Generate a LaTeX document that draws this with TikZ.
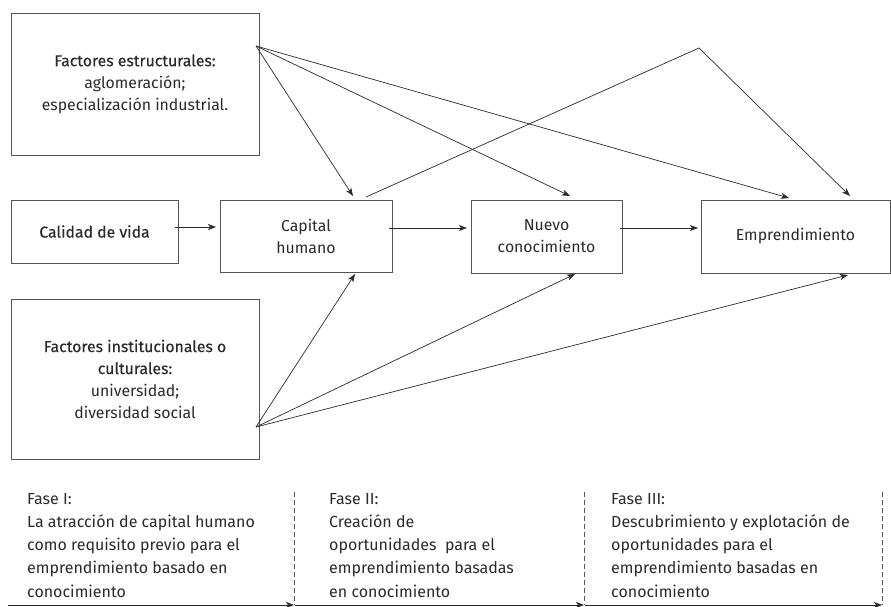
\documentclass[tikz,border=0pt]{standalone}
\usepackage{fontspec}
\setmainfont{Fira Sans}
\newfontfamily\medfont[FakeBold=0.3]{Fira Sans}
\usetikzlibrary{arrows.meta}
\definecolor{ink}{HTML}{2A2A2A}
\definecolor{frame}{HTML}{555555}
\tikzset{
  box/.style={draw=frame, line width=0.9pt, align=center, text=ink,
    font=\fontsize{15.8}{22}\selectfont, inner sep=0pt},
  link/.style={draw=ink, line width=0.7pt, -{Stealth[length=8pt,width=6pt,inset=2pt]}},
  phase/.style={draw=frame, line width=0.7pt, dash pattern=on 5pt off 3pt},
  phasetext/.style={anchor=north west, align=left, text=ink, inner sep=0pt,
    font=\fontsize{16}{23.2}\selectfont},
}
\begin{document}
\begin{tikzpicture}[x=1pt,y=-1pt]
\useasboundingbox (0,0) rectangle (891,607);

% boxes
\node[box, minimum width=248pt, minimum height=142pt] (struct) at (135,84)
  {{\medfont Factores estructurales:}\\aglomeración;\\especialización industrial.};
\node[box, minimum width=167pt, minimum height=63pt] (vida) at (94.5,231.5)
  {\medfont Calidad de vida};
\node[box, minimum width=172pt, minimum height=72pt] (cap) at (306,236)
  {Capital\\humano};
\node[box, minimum width=151pt, minimum height=73pt] (nuevo) at (546.5,236.5)
  {Nuevo\\conocimiento};
\node[box, minimum width=189pt, minimum height=73pt] (empr) at (795.5,236.5)
  {Emprendimiento};
\node[box, minimum width=248pt, minimum height=160pt] (inst) at (135,379)
  {{\medfont Factores institucionales o}\\{\medfont culturales:}\\universidad;\\diversidad social};

% connector end points
\coordinate (sOut) at (256,46);
\coordinate (iOut) at (256,427);
\coordinate (capTopIn) at (353,196);
\coordinate (capTopOut) at (366,197);
\coordinate (peak) at (699,48);
\coordinate (nuevoTopIn) at (570,196);
\coordinate (emprTopIn) at (789,198);
\coordinate (emprTopIn2) at (850,196);
\coordinate (capBotIn) at (355,274);
\coordinate (nuevoBotIn) at (575,274);
\coordinate (emprBotIn) at (848,275);
\coordinate (vidaOut) at (175,227);
\coordinate (capIn) at (216,227);
\coordinate (capOut) at (389,228);
\coordinate (nuevoIn) at (467,228);
\coordinate (nuevoOut) at (620,228);
\coordinate (emprIn) at (698,228);

% main chain
\draw[link] (vidaOut) -- (capIn);
\draw[link] (capOut) -- (nuevoIn);
\draw[link] (nuevoOut) -- (emprIn);

% structural factors
\draw[link] (sOut) -- (capTopIn);
\draw[link] (sOut) -- (nuevoTopIn);
\draw[link] (sOut) -- (emprTopIn);

% human capital straight to entrepreneurship
\draw[link] (capTopOut) -- (peak) -- (emprTopIn2);

% institutional factors
\draw[link] (iOut) -- (capBotIn);
\draw[link] (iOut) -- (nuevoBotIn);
\draw[link] (iOut) -- (emprBotIn);

% phase timeline
\coordinate (t0) at (8,605);
\coordinate (t1) at (294,605);
\coordinate (t2) at (584,605);
\coordinate (t3) at (882,605);
\coordinate (d1) at (294,492);
\coordinate (d2) at (584,492);
\coordinate (d3) at (882,492);
\draw[phase] (d1) -- (t1);
\draw[phase] (d2) -- (t2);
\draw[phase] (d3) -- (t3);
\draw[link] (t0) -- (t1);
\draw[link] ([xshift=1pt]t1) -- (t2);
\draw[link] ([xshift=1pt]t2) -- (t3);

\node[phasetext] (f1) at (27,493)
  {Fase I:\\La atracción de capital humano\\como requisito previo para el\\emprendimiento basado en\\conocimiento};
\node[phasetext] (f2) at (329,493)
  {Fase II:\\Creación de\\oportunidades\ \ para el\\emprendimiento basadas\\en conocimiento};
\node[phasetext] (f3) at (611,493)
  {Fase III:\\Descubrimiento y explotación de\\oportunidades para el\\emprendimiento basadas en\\conocimiento};
\end{tikzpicture}
\end{document}
